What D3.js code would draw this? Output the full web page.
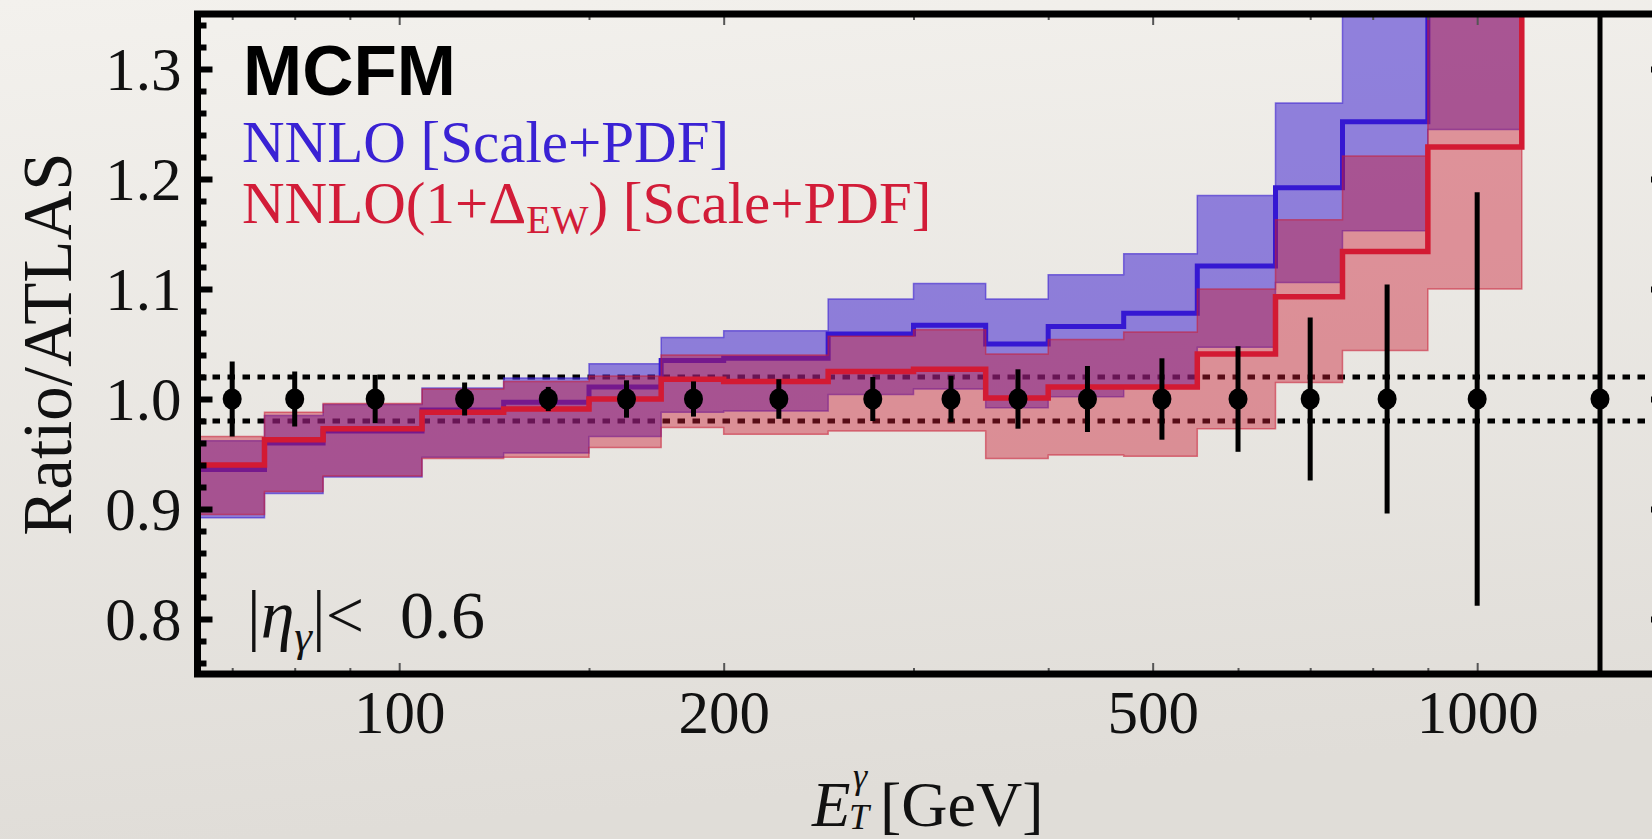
<!DOCTYPE html>
<html>
<head>
<meta charset="utf-8">
<script src="https://cdn.jsdelivr.net/npm/d3@7"></script>
<style>
html, body { margin:0; padding:0; background:#e9e6e1; }
svg { display:block; }
</style>
</head>
<body>
<svg id="graph"></svg>
<script>
/* bin edges of the ATLAS photon E_T measurement (GeV) */
var binEdges = [65,75,85,105,125,150,175,200,250,300,350,400,470,550,650,750,900,1100,1500];

/* data: ratio is 1 by construction, total uncertainty per bin */
var dataCenters = [70,80,95,115,137.5,162.5,187.5,225,275,325,375,435,510,600,700,825,1000,1300];
var dataErr = [0.034,0.025,0.022,0.015,0.011,0.017,0.016,0.018,0.020,0.021,0.027,0.030,0.037,0.048,0.074,0.104,0.188,0.55];

/* NNLO [Scale+PDF] */
var nnloCentral = [0.936,0.960,0.971,0.990,0.997,1.011,1.035,1.037,1.059,1.067,1.050,1.066,1.078,1.121,1.192,1.252,1.376,1.60];
var nnloUp      = [0.962,0.985,0.995,1.010,1.019,1.032,1.056,1.062,1.091,1.105,1.091,1.113,1.132,1.185,1.269,1.400,1.550];
var nnloDown    = [0.892,0.914,0.929,0.947,0.951,0.966,0.988,0.989,1.004,1.009,0.992,1.002,1.011,1.047,1.106,1.153,1.245];

/* NNLO(1+Delta_EW) [Scale+PDF] */
var ewCentral = [0.940,0.963,0.973,0.988,0.991,1.000,1.018,1.016,1.025,1.027,1.001,1.011,1.011,1.041,1.093,1.134,1.229,1.45];
var ewUp      = [0.966,0.988,0.996,1.009,1.016,1.021,1.040,1.040,1.057,1.063,1.041,1.054,1.061,1.100,1.163,1.221,1.380];
var ewDown    = [0.895,0.916,0.930,0.946,0.947,0.956,0.974,0.968,0.971,0.971,0.946,0.949,0.948,0.973,1.015,1.044,1.100];

/* dotted lines */
var lumiLines = [1.02, 0.98];

/* ticks */
var yMajor = [0.8,0.9,1.0,1.1,1.2,1.3];
var yMinor = d3.range(0.76,1.35,0.02).filter(function(v){ return Math.abs(Math.round(v*10)-v*10) > 0.01; });
var xMajor = [100,200,500,1000];
var xMinor = [70,80,90,150,300,400,600,700,800,900];

var W = 1652, H = 839;
var svg = d3.select("#graph").attr("width", W).attr("height", H);

var frame = {left: 197.5, right: 1667, top: 14, bottom: 674};

var x = d3.scaleLog().domain([65,1500]).range([frame.left, frame.right]);
var y = d3.scaleLinear().domain([0.75,1.35]).range([frame.bottom, frame.top]);

/* paper background */
var defs = svg.append("defs");
var grad = defs.append("linearGradient").attr("id","paper")
    .attr("x1",0).attr("y1",0).attr("x2",0.15).attr("y2",1);
grad.append("stop").attr("offset","0%").attr("stop-color","#f3f1ed");
grad.append("stop").attr("offset","100%").attr("stop-color","#e0ddd8");
svg.append("rect").attr("width",W).attr("height",H).attr("fill","url(#paper)");

defs.append("clipPath").attr("id","plotclip").append("rect")
    .attr("x", frame.left).attr("y", frame.top)
    .attr("width", frame.right - frame.left)
    .attr("height", frame.bottom - frame.top);

var plot = svg.append("g").attr("clip-path","url(#plotclip)");

// dotted lines go under everything
plot.selectAll(".lumi")
  .data(lumiLines)
  .enter().append("line")
    .attr("class","lumi")
    .attr("x1", x(65)).attr("x2", x(1500))
    .attr("y1", function(d){ return y(d); })
    .attr("y2", function(d){ return y(d); })
    .attr("stroke","#000")
    .attr("stroke-width",5)
    .attr("stroke-dasharray","7.5,7.5");

function stepPoints(vals) {
    var pts = [];
    vals.forEach(function(v,i){
        pts.push([binEdges[i], v]);
        pts.push([binEdges[i+1], v]);
    });
    return pts;
}
function bandPoints(lo, hi) {
    var pts = [];
    lo.forEach(function(l,i){
        pts.push({e: binEdges[i], lo: l, hi: hi[i]});
        pts.push({e: binEdges[i+1], lo: l, hi: hi[i]});
    });
    return pts;
}

var area = d3.area()
    .x(function(d){ return x(d.e); })
    .y0(function(d){ return y(d.lo); })
    .y1(function(d){ return y(d.hi); });
var line = d3.line()
    .x(function(d){ return x(d[0]); })
    .y(function(d){ return y(d[1]); });

var blue = "#3a1fd0", red = "#c91b33";

// blue band + line
plot.append("path")
    .attr("d", area(bandPoints(nnloDown, nnloUp)))
    .attr("fill", blue).attr("fill-opacity", 0.53)
    .attr("stroke", blue).attr("stroke-opacity", 0.6).attr("stroke-width", 1.5);
plot.append("path")
    .attr("d", line(stepPoints(nnloCentral)))
    .attr("fill","none").attr("stroke", "#3518d2").attr("stroke-width", 5);

// red band + line
plot.append("path")
    .attr("d", area(bandPoints(ewDown, ewUp)))
    .attr("fill", red).attr("fill-opacity", 0.43)
    .attr("stroke", red).attr("stroke-opacity", 0.55).attr("stroke-width", 1.5);
plot.append("path")
    .attr("d", line(stepPoints(ewCentral)))
    .attr("fill","none").attr("stroke", "#d31a33").attr("stroke-width", 5.5);

// data points
var pts = plot.selectAll(".pt")
  .data(dataCenters)
  .enter().append("g").attr("class","pt");
pts.append("line")
    .attr("x1", function(d){ return x(d); })
    .attr("x2", function(d){ return x(d); })
    .attr("y1", function(d,i){ return y(1 + dataErr[i]); })
    .attr("y2", function(d,i){ return y(1 - dataErr[i]); })
    .attr("stroke","#000").attr("stroke-width",5);
pts.append("ellipse")
    .attr("cx", function(d){ return x(d); })
    .attr("cy", y(1))
    .attr("rx", 9.5).attr("ry", 10.5)
    .attr("fill","#000");

/* axes */
function styleAxis(g, col, w) {
    g.select(".domain").remove();
    g.selectAll(".tick line").attr("stroke", col).attr("stroke-width", w);
}

var serif = "'Liberation Serif','Times New Roman',serif";

var bottomMajor = svg.append("g")
    .attr("transform","translate(0," + frame.bottom + ")")
    .call(d3.axisBottom(x).tickValues(xMajor).tickSize(-11).tickPadding(16)
          .tickFormat(function(d){ return d; }));
styleAxis(bottomMajor, "#555", 2);
bottomMajor.selectAll("text")
    .attr("font-family", serif).attr("font-size", 61).attr("fill","#111");

var bottomMinor = svg.append("g")
    .attr("transform","translate(0," + frame.bottom + ")")
    .call(d3.axisBottom(x).tickValues(xMinor).tickSize(-6).tickFormat(""));
styleAxis(bottomMinor, "#555", 2);

var topMajor = svg.append("g")
    .attr("transform","translate(0," + frame.top + ")")
    .call(d3.axisTop(x).tickValues(xMajor).tickSize(-11).tickFormat(""));
styleAxis(topMajor, "#555", 2);
var topMinor = svg.append("g")
    .attr("transform","translate(0," + frame.top + ")")
    .call(d3.axisTop(x).tickValues(xMinor).tickSize(-6).tickFormat(""));
styleAxis(topMinor, "#555", 2);

var leftMajor = svg.append("g")
    .attr("transform","translate(" + frame.left + ",0)")
    .call(d3.axisLeft(y).tickValues(yMajor).tickSize(-15).tickPadding(16)
          .tickFormat(d3.format(".1f")));
styleAxis(leftMajor, "#000", 6);
leftMajor.selectAll("text")
    .attr("font-family", serif).attr("font-size", 61).attr("fill","#111")
    .attr("dy","0.33em");
var leftMinor = svg.append("g")
    .attr("transform","translate(" + frame.left + ",0)")
    .call(d3.axisLeft(y).tickValues(yMinor).tickSize(-9).tickFormat(""));
styleAxis(leftMinor, "#000", 6);

var rightMajor = svg.append("g")
    .attr("transform","translate(" + frame.right + ",0)")
    .call(d3.axisRight(y).tickValues(yMajor).tickSize(-16).tickFormat(""));
styleAxis(rightMajor, "#000", 6);
var rightMinor = svg.append("g")
    .attr("transform","translate(" + frame.right + ",0)")
    .call(d3.axisRight(y).tickValues(yMinor).tickSize(-9).tickFormat(""));
styleAxis(rightMinor, "#000", 6);

// thick frame
svg.append("rect")
    .attr("x", frame.left).attr("y", frame.top)
    .attr("width", frame.right - frame.left)
    .attr("height", frame.bottom - frame.top)
    .attr("fill","none").attr("stroke","#000").attr("stroke-width",7);

/* labels */
svg.append("text")
    .attr("x", 243).attr("y", 95)
    .attr("font-family","'Liberation Sans',Arial,sans-serif")
    .attr("font-weight","bold").attr("font-size",71).attr("fill","#000")
    .text("MCFM");

svg.append("text")
    .attr("x", 242).attr("y", 162)
    .attr("font-family", serif).attr("font-size", 59).attr("fill","#3a22d4")
    .text("NNLO [Scale+PDF]");

var redTxt = svg.append("text")
    .attr("x", 242).attr("y", 223)
    .attr("font-family", serif).attr("font-size", 59).attr("fill","#d21c38");
redTxt.append("tspan").text("NNLO(1+\u0394");
redTxt.append("tspan").attr("font-size", 40).attr("dy", 10).text("EW");
redTxt.append("tspan").attr("dy", -10).text(") [Scale+PDF]");

var etaTxt = svg.append("text")
    .attr("x", 247).attr("y", 638)
    .attr("font-family", serif).attr("font-size", 68).attr("fill","#111");
etaTxt.append("tspan").text("|");
etaTxt.append("tspan").attr("font-style","italic").text("\u03b7");
etaTxt.append("tspan").attr("font-style","italic").attr("font-size",45).attr("dy",13).text("\u03b3");
etaTxt.append("tspan").attr("dy",-13).text("|<");
etaTxt.append("tspan").attr("x", 400).text("0.6");

// y title
svg.append("text")
    .attr("transform","translate(71," + ((frame.top + frame.bottom) / 2) + ") rotate(-90)")
    .attr("text-anchor","middle")
    .attr("font-family", serif).attr("font-size", 69).attr("fill","#111")
    .text("Ratio/ATLAS");

// x title E_T^gamma [GeV]
var xt = svg.append("g").attr("fill","#111").attr("font-family", serif);
xt.append("text").attr("x", 812).attr("y", 826)
    .attr("font-size", 63).attr("font-style","italic").text("E");
xt.append("text").attr("x", 853).attr("y", 788)
    .attr("font-size", 36).attr("font-style","italic").text("\u03b3");
xt.append("text").attr("x", 849).attr("y", 829)
    .attr("font-size", 36).attr("font-style","italic").text("T");
xt.append("text").attr("x", 880).attr("y", 826)
    .attr("font-size", 64).text("[GeV]");
</script>
</body>
</html>
